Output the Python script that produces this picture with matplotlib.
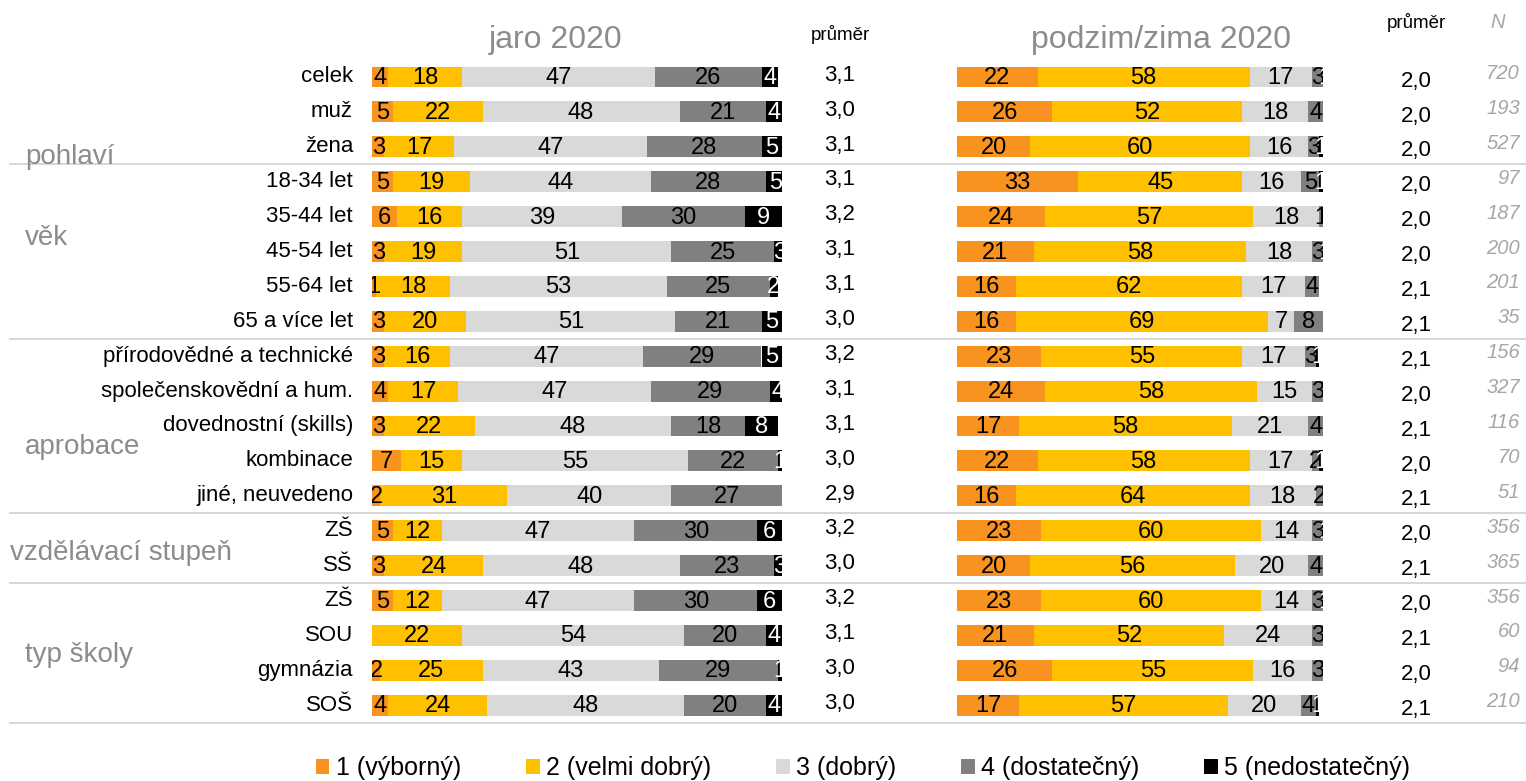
import matplotlib
matplotlib.use('Agg')

import matplotlib.pyplot as plt
import matplotlib.transforms as mtransforms
from matplotlib.patches import Patch

plt.rcParams['font.family'] = ['Liberation Sans', 'DejaVu Sans']

categories = [
    "celek", "muž", "žena",
    "18-34 let", "35-44 let", "45-54 let", "55-64 let", "65 a více let",
    "přírodovědné a technické", "společenskovědní a hum.", "dovednostní (skills)",
    "kombinace", "jiné, neuvedeno",
    "ZŠ", "SŠ",
    "ZŠ", "SOU", "gymnázia", "SOŠ",
]
groups = ["pohlaví", "věk", "aprobace", "vzdělávací stupeň", "typ školy"]
group_rows = [2.3, 4.6, 10.6, 13.65, 16.55]
separators = [2.5, 7.5, 12.5, 14.5, 18.5]

grades = ["1 (výborný)", "2 (velmi dobrý)", "3 (dobrý)", "4 (dostatečný)", "5 (nedostatečný)"]
colors = ["#F7931E", "#FFC000", "#D9D9D9", "#808080", "#000000"]

# jaro 2020, share of each grade (%)
jaro_1 = [4, 5, 3, 5, 6, 3, 1, 3, 3, 4, 3, 7, 2, 5, 3, 5, 0, 2, 4]
jaro_2 = [18, 22, 17, 19, 16, 19, 18, 20, 16, 17, 22, 15, 31, 12, 24, 12, 22, 25, 24]
jaro_3 = [47, 48, 47, 44, 39, 51, 53, 51, 47, 47, 48, 55, 40, 47, 48, 47, 54, 43, 48]
jaro_4 = [26, 21, 28, 28, 30, 25, 25, 21, 29, 29, 18, 22, 27, 30, 23, 30, 20, 29, 20]
jaro_5 = [4, 4, 5, 5, 9, 3, 2, 5, 5, 4, 8, 1, 0, 6, 3, 6, 4, 1, 4]
jaro_mean = ["3,1", "3,0", "3,1", "3,1", "3,2", "3,1", "3,1", "3,0", "3,2", "3,1",
             "3,1", "3,0", "2,9", "3,2", "3,0", "3,2", "3,1", "3,0", "3,0"]

# podzim/zima 2020
podzim_1 = [22, 26, 20, 33, 24, 21, 16, 16, 23, 24, 17, 22, 16, 23, 20, 23, 21, 26, 17]
podzim_2 = [58, 52, 60, 45, 57, 58, 62, 69, 55, 58, 58, 58, 64, 60, 56, 60, 52, 55, 57]
podzim_3 = [17, 18, 16, 16, 18, 18, 17, 7, 17, 15, 21, 17, 18, 14, 20, 14, 24, 16, 20]
podzim_4 = [3, 4, 3, 5, 1, 3, 4, 8, 3, 3, 4, 2, 2, 3, 4, 3, 3, 3, 4]
podzim_5 = [1, 0, 1, 1, 0, 1, 0, 0, 1, 0, 0, 1, 0, 1, 0, 1, 0, 0, 1]
podzim_mean = ["2,0", "2,0", "2,0", "2,0", "2,0", "2,0", "2,1", "2,1", "2,1", "2,0",
               "2,1", "2,0", "2,1", "2,0", "2,1", "2,0", "2,1", "2,0", "2,1"]
n_resp = [720, 193, 527, 97, 187, 200, 201, 35, 156, 327, 116, 70, 51, 356, 365, 356, 60, 94, 210]

W, H = 1526, 781
fig = plt.figure(figsize=(W / 100, H / 100), dpi=100)

row0, step = 77, 34.9
y_top = row0 - step / 2
y_bot = row0 + 18 * step + step / 2
bottom = 1 - y_bot / H
height = (y_bot - y_top) / H


def make_ax(x0, x1):
    ax = fig.add_axes([x0 / W, bottom, (x1 - x0) / W, height])
    ax.set_xlim(0, 100)
    ax.set_ylim(len(categories) - 0.5, -0.5)
    ax.axis("off")
    return ax


def draw_bars(ax, series):
    rows = range(len(categories))
    left = [0] * len(categories)
    for k, vals in enumerate(series):
        ax.barh(rows, vals, left=left, height=0.6, color=colors[k])
        tc = "white" if k == 4 else "black"
        for i, v in enumerate(vals):
            if v > 0:
                ax.text(left[i] + v / 2, i + 0.03, str(v), ha="center", va="center",
                        fontsize=17, color=tc, clip_on=True)
        left = [a + b for a, b in zip(left, vals)]


ax1 = make_ax(372, 782)
ax2 = make_ax(957, 1323)
draw_bars(ax1, [jaro_1, jaro_2, jaro_3, jaro_4, jaro_5])
draw_bars(ax2, [podzim_1, podzim_2, podzim_3, podzim_4, podzim_5])

trans = mtransforms.blended_transform_factory(fig.transFigure, ax1.transData)

for i, c in enumerate(categories):
    ax1.text(353 / W, i, c, transform=trans, ha="right", va="center",
             fontsize=16, clip_on=False)
    ax1.text(840 / W, i - 0.05, jaro_mean[i], transform=trans, ha="center", va="center",
             fontsize=16, clip_on=False)
    ax1.text(1416 / W, i + 0.12, podzim_mean[i], transform=trans, ha="center",
             va="center", fontsize=16, clip_on=False)
    ax1.text(1520 / W, i - 0.1, str(n_resp[i]), transform=trans, ha="right",
             va="center", fontsize=14.5, style="italic", color="#A6A6A6", clip_on=False)

for g, r in zip(groups, group_rows):
    gx = 10 if g == "vzdělávací stupeň" else 25
    ax1.text(gx / W, r, g, transform=trans, ha="left", va="center",
             fontsize=20, color="#8C8C8C", clip_on=False)

for s in separators:
    ax1.plot([10 / W, 1.0], [s, s], transform=trans, color="#D0D0D0",
             lw=1.2, clip_on=False, zorder=0)

fig.text(556 / W, 1 - 40 / H, "jaro 2020", ha="center", va="center",
         fontsize=23, color="#8C8C8C")
fig.text(1161 / W, 1 - 40 / H, "podzim/zima 2020", ha="center", va="center",
         fontsize=23, color="#8C8C8C")
fig.text(840 / W, 1 - 35 / H, "průměr", ha="center", va="center", fontsize=13.5)
fig.text(1416 / W, 1 - 22 / H, "průměr", ha="center", va="center", fontsize=13.5)
fig.text(1498 / W, 1 - 22 / H, "N", ha="center", va="center", fontsize=14.5,
         style="italic", color="#A6A6A6")

handles = [Patch(facecolor=c) for c in colors]
fig.legend(handles, grades, loc="center", bbox_to_anchor=(863 / W, 1 - 768 / H),
           ncol=5, frameon=False, fontsize=18, handlelength=0.55, handleheight=0.55,
           handletextpad=0.25, columnspacing=2.6)

fig.savefig("out.png", dpi=100)
